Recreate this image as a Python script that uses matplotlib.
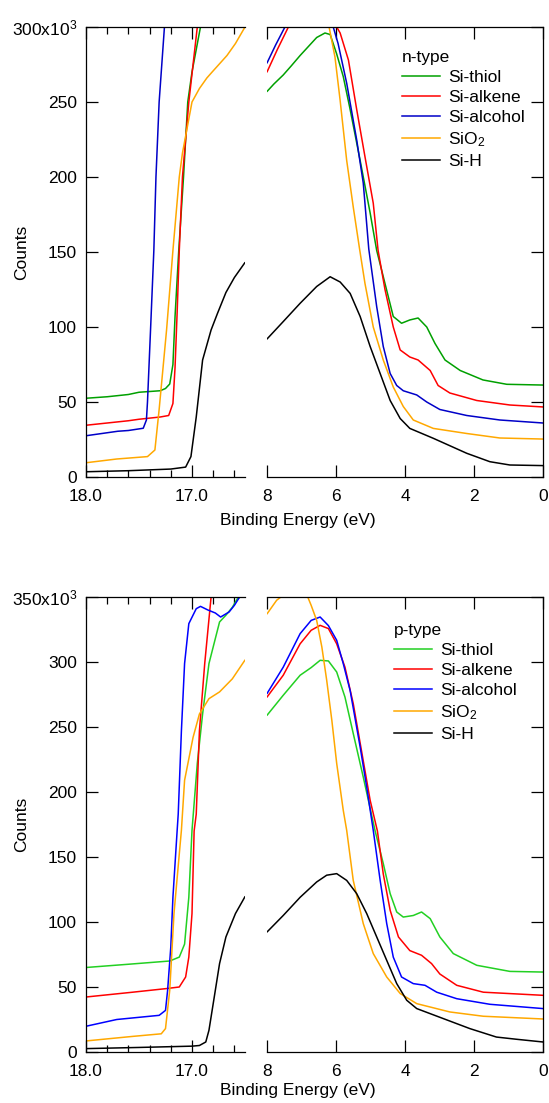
import numpy as np
import matplotlib
matplotlib.use("Agg")
import matplotlib.pyplot as plt
from matplotlib.ticker import FixedLocator, MultipleLocator, FixedFormatter

plt.rcParams['font.family'] = ['Liberation Sans', 'DejaVu Sans']
plt.rcParams['font.size'] = 12.5
plt.rcParams['mathtext.fontset'] = 'custom'
plt.rcParams['mathtext.rm'] = 'Liberation Sans'
plt.rcParams['mathtext.default'] = 'regular'

# binding energy (eV) / counts (x10^3); cutoff region 18-16.5 eV then valence region 8-0 eV
# n-type
n_thiol_ev = [18.0, 17.8, 17.6, 17.5, 17.3, 17.25, 17.21, 17.18, 17.16, 17.125, 17.08, 17.04, 17.0, 16.92, 16.85,
              8.0, 7.8, 7.53, 7.3, 7.04, 6.8, 6.56, 6.32, 6.17, 5.98, 5.79, 5.59, 5.3, 5.01, 4.82, 4.58, 4.34,
              4.1, 3.86, 3.62, 3.37, 3.13, 2.84, 2.4, 1.74, 1.05, 0.0]
n_thiol = [52.5, 53.5, 55, 56.5, 57.5, 59, 62, 75, 107, 151, 200, 250, 270, 300, 320,
           257, 262, 268, 274, 281, 287, 293, 296, 295, 282, 267, 245, 211, 176, 151, 129, 107,
           102.5, 104.7, 106, 100, 89, 78, 71, 64.7, 61.8, 61.3]

n_alkene_ev = [18.0, 17.8, 17.6, 17.5, 17.3, 17.22, 17.18, 17.16, 17.14, 17.12, 17.09, 17.03, 16.95, 16.9,
               8.0, 7.7, 7.38, 7.0, 6.5, 6.2, 5.98, 5.88, 5.64, 5.4, 5.16, 4.92, 4.78, 4.58, 4.34, 4.14,
               3.86, 3.62, 3.27, 3.04, 2.7, 1.92, 0.96, 0.0]
n_alkene = [34.5, 36, 37.5, 38.5, 40, 41, 49, 73, 110, 151, 200, 250, 300, 320,
            270, 285, 300, 318, 325, 318, 300, 296, 278, 245, 213.5, 182.5, 151, 125, 100, 84.7,
            80, 78, 71, 61, 56, 51, 48, 46.7]

n_alcohol_ev = [18.0, 17.85, 17.7, 17.6, 17.46, 17.43, 17.42, 17.39, 17.36, 17.34, 17.31, 17.26, 17.22,
                8.0, 7.75, 7.48, 7.0, 6.5, 6.08, 5.94, 5.69, 5.4, 5.21, 5.05, 4.82, 4.63, 4.43, 4.24,
                4.05, 3.66, 3.37, 2.99, 2.21, 1.25, 0.0]
n_alcohol = [27.5, 29, 30.5, 31, 32.5, 38, 50, 100, 151, 200, 250, 300, 320,
             276, 288, 300, 320, 330, 300, 289, 262.5, 224.7, 196, 152, 113.5, 87, 69, 61,
             57.5, 54.7, 50, 45, 41, 38, 36]

n_sio2_ev = [18.0, 17.71, 17.42, 17.35, 17.31, 17.24, 17.18, 17.12, 17.09, 17.0, 16.93, 16.86, 16.81, 16.67,
             16.59, 16.5,
             8.0, 7.0, 6.5, 6.2, 6.03, 5.88, 5.69, 5.5, 5.32, 5.16, 4.92, 4.63, 4.34, 4.05, 3.76, 3.18,
             2.21, 1.25, 0.0]
n_sio2 = [9.5, 12, 13.6, 18, 45, 98, 151, 200, 216, 250, 259, 266, 270, 281,
          289, 300,
          340, 350, 335, 300, 280, 251, 211, 180, 152.5, 129, 100, 78, 60, 47, 38, 32.4,
          29, 26, 25.3]

n_sih_ev = [18.0, 17.6, 17.2, 17.06, 17.01, 16.96, 16.9, 16.82, 16.76, 16.68, 16.6, 16.5,
            8.0, 7.53, 7.04, 6.56, 6.17, 5.88, 5.59, 5.3, 5.01, 4.72, 4.43, 4.14, 3.86, 3.18, 2.21,
            1.54, 0.96, 0.0]
n_sih = [3.5, 4.2, 5.3, 6.6, 13.6, 40, 78, 98, 109, 123, 133, 143,
         92, 103.6, 115.8, 127, 133.5, 130, 122.4, 107, 87, 69, 51, 39, 32.4, 25.8, 15.8,
         10.2, 8, 7.6]

# p-type
p_thiol_ev = [18.0, 17.6, 17.21, 17.12, 17.07, 17.03, 17.0, 16.95, 16.9, 16.84, 16.74, 16.68, 16.62, 16.57, 16.5,
              8.0, 7.53, 7.04, 6.72, 6.46, 6.22, 5.98, 5.74, 5.5, 5.21, 4.87, 4.63, 4.43, 4.24, 4.05,
              3.76, 3.52, 3.27, 2.99, 2.6, 1.92, 0.96, 0.0]
p_thiol = [65, 67.5, 70, 73, 83, 119, 170.5, 222, 260, 298.8, 330.8, 336, 342, 349, 355,
           259, 274.4, 289.8, 295.7, 301.3, 300.8, 292.3, 273, 245, 211.5, 170.5, 145, 121.8, 107.7, 103.8,
           105, 107.7, 102.6, 88.5, 75.7, 66.7, 62, 61.5]

p_alkene_ev = [18.0, 17.56, 17.24, 17.12, 17.06, 17.03, 17.0, 16.98, 16.96, 16.93, 16.88, 16.82, 16.8,
               8.0, 7.53, 7.04, 6.72, 6.46, 6.22, 5.98, 5.74, 5.5, 5.21, 5.01, 4.8, 4.63, 4.43, 4.19,
               3.86, 3.52, 3.23, 2.99, 2.5, 1.73, 0.0]
p_alkene = [42.3, 46, 48.8, 50, 57.7, 73, 106.5, 170, 183, 247, 298.8, 350, 360,
            273, 289.8, 314, 324.4, 328.2, 325.7, 314, 296, 268, 224, 193.6, 170, 137, 109, 88.5,
            78, 74.4, 68, 60, 51.3, 46, 43.6]

p_alcohol_ev = [18.0, 17.71, 17.31, 17.25, 17.23, 17.2, 17.18, 17.14, 17.13, 17.1, 17.07, 17.03, 16.96, 16.92,
                16.85, 16.78, 16.73, 16.65, 16.6, 16.56, 16.5,
                8.0, 7.53, 7.04, 6.72, 6.46, 6.22, 5.98, 5.79, 5.59, 5.3, 5.11, 4.92, 4.72, 4.53, 4.34,
                4.1, 3.76, 3.42, 3.08, 2.5, 1.54, 0.0]
p_alcohol = [19.8, 25, 28.2, 32, 47.5, 80.8, 119, 170.5, 183, 247, 298.8, 329.5, 341, 342.8,
             340, 337.7, 334.6, 338.5, 343.6, 348.8, 355,
             275.7, 296, 321.8, 332, 334.6, 328, 316.7, 298.8, 278, 234.6, 203.8, 170.5, 132, 98.8, 73,
             57.7, 52.6, 51.3, 46, 41, 36.7, 33.4]

p_sio2_ev = [18.0, 17.56, 17.29, 17.25, 17.21, 17.17, 17.1, 17.07, 16.99, 16.93, 16.84, 16.74, 16.62, 16.5,
             8.0, 7.72, 7.3, 6.85, 6.72, 6.56, 6.41, 6.27, 6.12, 5.98, 5.79, 5.69, 5.5, 5.21, 4.92,
             4.53, 4.14, 3.66, 2.7, 1.73, 0.0]
p_sio2 = [8.5, 12, 14, 18, 47.5, 106.5, 170.5, 209, 242, 260, 271.8, 277, 287, 301.5,
          337, 347.5, 356, 352, 343.6, 332, 311.5, 286, 255, 222, 186, 170.5, 132, 98.8, 75.7,
          57.7, 45, 37.2, 30.8, 27.5, 25.4]

p_sih_ev = [18.0, 17.5, 17.0, 16.93, 16.87, 16.84, 16.79, 16.74, 16.68, 16.59, 16.5,
            8.0, 7.53, 7.04, 6.56, 6.27, 5.98, 5.69, 5.4, 5.11, 4.82, 4.53, 4.24, 3.95, 3.66, 2.89,
            2.12, 1.35, 0.77, 0.0]
p_sih = [2.6, 3.5, 4.5, 5, 7.7, 16.7, 42.3, 68, 88.5, 106.5, 119.5,
         92.3, 105, 119, 130.8, 136, 137.2, 132, 121.8, 106.5, 88.5, 70.5, 52.6, 39.8, 33.4, 25.7,
         18, 11.5, 9.8, 7.7]

labels = ['Si-thiol', 'Si-alkene', 'Si-alcohol', 'SiO$_2$', 'Si-H']
n_colors = ['#00a000', '#ff0000', '#0000c8', '#ffa800', '#000000']
p_colors = ['#22d022', '#ff0000', '#0000ff', '#ffa800', '#000000']

W, H = 549, 1103
fig = plt.figure(figsize=(W / 100, H / 100), dpi=100)


def panel(top_px, bot_px, ymax, xs, ys, colors, title, leg_xy, label_y):
    hgt = (bot_px - top_px) / H
    b = 1 - bot_px / H
    axL = fig.add_axes([86 / W, b, 159 / W, hgt])
    axR = fig.add_axes([267 / W, b, 276 / W, hgt])
    for x, y, c, lab in zip(xs, ys, colors, labels):
        axL.plot(x, y, color=c, lw=1.1)
        axR.plot(x, y, color=c, lw=1.1, label=lab)

    for ax in (axL, axR):
        ax.set_ylim(0, ymax)
        for s in ax.spines.values():
            s.set_linewidth(0.9)
        ax.tick_params(which='both', direction='in', width=0.9, top=True, labelsize=12.5)
        ax.tick_params(which='major', length=8.5)
        ax.tick_params(which='minor', length=5)
        ax.tick_params(axis='x', pad=8.5)
        ax.tick_params(axis='y', pad=6.5)

    axL.set_xlim(18.0, 16.5)
    axL.spines['right'].set_visible(False)
    axL.xaxis.set_major_locator(FixedLocator([18.0, 17.0]))
    axL.xaxis.set_major_formatter(FixedFormatter(['18.0', '17.0']))
    axL.xaxis.set_minor_locator(MultipleLocator(0.2))
    yt = list(range(0, ymax + 1, 50))
    ylab = [str(v) for v in yt[:-1]] + ['%dx10$^{3}$' % ymax]
    axL.yaxis.set_major_locator(FixedLocator(yt))
    axL.yaxis.set_major_formatter(FixedFormatter(ylab))
    axL.tick_params(axis='y', right=False)

    axR.set_xlim(8, 0)
    axR.spines['left'].set_visible(False)
    axR.set_xticks([8, 6, 4, 2, 0])
    axR.set_yticks(yt)
    axR.tick_params(axis='y', left=False, right=True, labelleft=False)

    axR.legend(title=title, loc='upper left', frameon=False,
               bbox_to_anchor=((leg_xy[0] - 267) / 276, (bot_px - leg_xy[1]) / (bot_px - top_px)),
               borderpad=0, borderaxespad=0, handlelength=2.2, handletextpad=0.45,
               labelspacing=0.28, fontsize=12.5, title_fontsize=12.5, alignment='left')

    fig.text(298 / W, 1 - label_y / H, 'Binding Energy (eV)', ha='center', va='center', fontsize=12.5)
    fig.text(22 / W, 1 - (top_px + bot_px) / 2 / H, 'Counts', ha='center', va='center',
             rotation=90, fontsize=12.5)


panel(27, 477, 300,
      [n_thiol_ev, n_alkene_ev, n_alcohol_ev, n_sio2_ev, n_sih_ev],
      [n_thiol, n_alkene, n_alcohol, n_sio2, n_sih],
      n_colors, 'n-type', (402, 50), 521)
panel(597, 1052, 350,
      [p_thiol_ev, p_alkene_ev, p_alcohol_ev, p_sio2_ev, p_sih_ev],
      [p_thiol, p_alkene, p_alcohol, p_sio2, p_sih],
      p_colors, 'p-type', (394, 623), 1090)

fig.savefig('out.png', dpi=100)
